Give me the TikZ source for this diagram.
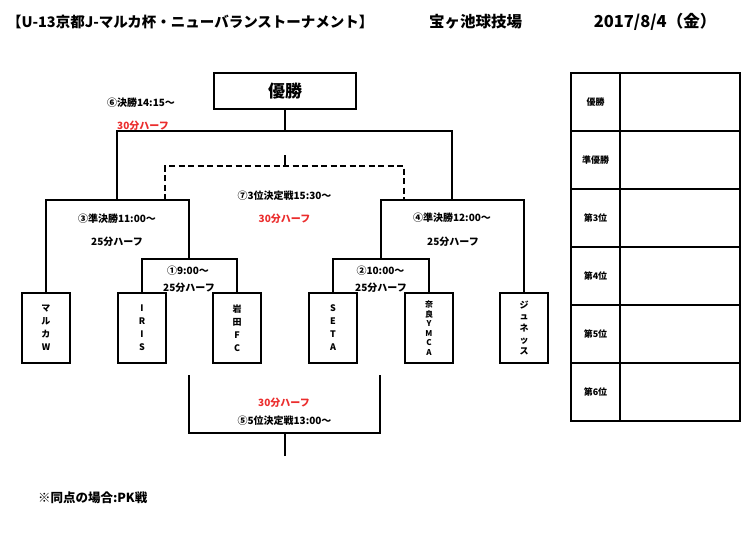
\documentclass[tikz,border=0pt]{standalone}
\usepackage{fontspec}
\setmainfont{Noto Sans CJK JP}
\usetikzlibrary{positioning}
\definecolor{halfred}{RGB}{235,45,45}
\tikzset{
 team/.style={draw,minimum width=48pt,minimum height=70pt,inner sep=0pt,align=center,font=\fontsize{9}{13}\selectfont\bfseries},
 lbl/.style={inner sep=0pt,font=\fontsize{10}{11}\selectfont\bfseries},
 half/.style={lbl,text=halfred},
 wire/.style={line width=2pt},
 rankcell/.style={draw,minimum width=49pt,minimum height=58pt,inner sep=0pt,font=\fontsize{9}{11}\selectfont\bfseries},
 entrycell/.style={draw,minimum width=120pt,minimum height=58pt,inner sep=0pt},
 head/.style={inner sep=0pt,font=\fontsize{14.5}{15}\selectfont\bfseries}
}
\begin{document}
\begin{tikzpicture}[x=1pt,y=-1pt,line width=2pt]
 \useasboundingbox (0,0) rectangle (750,535);
 \node[head,anchor=west] (title) at (6,22) {【U-13京都J-マルカ杯・ニューバランストーナメント】};
 \node[head,font=\fontsize{15.5}{16}\selectfont\bfseries] (venue) at (475.5,22) {宝ヶ池球技場};
 \node[head,font=\fontsize{16.5}{17}\selectfont\bfseries] (date) at (655,22) {2017/8/4（金）};
 % teams
 \node[team] (maruka) at (46,328) {マ\\ル\\カ\\W};
 \node[team] (iris) at (142,328) {I\\R\\I\\S};
 \node[team] (iwata) at (237,328) {岩\\田\\F\\C};
 \node[team] (seta) at (333,328) {S\\E\\T\\A};
 \node[team,font=\fontsize{8}{9.6}\selectfont\bfseries] (nara) at (429,328) {奈\\良\\Y\\M\\C\\A};
 \node[team,font=\fontsize{9}{11.7}\selectfont\bfseries] (junes) at (524,328) {ジ\\ュ\\ネ\\ッ\\ス};
 \node[draw,minimum width=142pt,minimum height=36pt,font=\fontsize{17}{17}\selectfont\bfseries] (champ) at (285,91) {優勝};
 % bracket
 \coordinate (m1) at (189,259);
 \coordinate (m2) at (381,259);
 \coordinate (m3) at (117,200);
 \coordinate (m4) at (452,200);
 \coordinate (fin) at (285,131);
 \draw[wire] (iris.north) |- (m1) -| (iwata.north);
 \draw[wire] (seta.north) |- (m2) -| (nara.north);
 \draw[wire] (maruka.north) |- (m3) -| (m1);
 \draw[wire] (m2) |- (m4) -| (junes.north);
 \draw[wire] (m3) |- (fin) -| (m4);
 \draw[wire] (champ) -- (fin);
 \coordinate (t0) at (285,155);
 \coordinate (tl) at (165,200);
 \coordinate (tr) at (404,200);
 \draw[wire] (t0) -- ++(0,11);
 \draw[wire,dashed,dash pattern=on 6pt off 3.5pt] (tl) |- (t0 |- 0,166) -| (tr);
 \coordinate (p5l) at (189,375);
 \coordinate (p5r) at (380,375);
 \coordinate (p5) at (285,456);
 \draw[wire] (p5l) |- (p5 |- 0,433) -| (p5r);
 \draw[wire] (p5) -- (p5 |- 0,433);
 % labels
 \node[lbl] (l6) at (141,103) {⑥決勝14:15～};
 \node[half] (h6) at (143,126) {30分ハーフ};
 \node[lbl] (l7) at (284.5,196) {⑦3位決定戦15:30～};
 \node[half] (h7) at (284.5,219) {30分ハーフ};
 \node[lbl] (l3) at (117,219) {③準決勝11:00～};
 \node[lbl] (h3) at (117,242) {25分ハーフ};
 \node[lbl] (l4) at (452,218) {④準決勝12:00～};
 \node[lbl] (h4) at (453,242) {25分ハーフ};
 \node[lbl] (l1) at (188,271) {①9:00～};
 \node[lbl] (h1) at (189,288) {25分ハーフ};
 \node[lbl] (l2) at (380.5,271) {②10:00～};
 \node[lbl] (h2) at (381,288) {25分ハーフ};
 \node[half] (h5) at (284,403) {30分ハーフ};
 \node[lbl] (l5) at (284.5,421) {⑤5位決定戦13:00～};
 \node[lbl,anchor=west,font=\fontsize{12.5}{13}\selectfont\bfseries] (note) at (37,498) {※同点の場合:PK戦};
 % ranking table
 \foreach \rank [count=\i] in {優勝,準優勝,第3位,第4位,第5位,第6位}{
  \node[rankcell] (rank\i) at (595.5,44+58*\i) {\rank};
  \node[entrycell] (entry\i) at (680,44+58*\i) {};
 }
\end{tikzpicture}
\end{document}
